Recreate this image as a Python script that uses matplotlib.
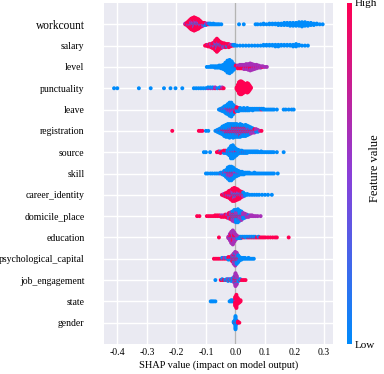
import numpy as np
import matplotlib
matplotlib.use("Agg")
import matplotlib.pyplot as plt
from matplotlib.colors import LinearSegmentedColormap
import matplotlib.cm as cm

# ── feature order (top to bottom) ─────────────────────────────────────────
FEATURES = [
    "workcount", "salary", "level", "punctuality", "leave", "registration",
    "source", "skill", "career_identity", "domicile_place", "education",
    "psychological_capital", "job_engagement", "state", "gender",
]

# each entry: (shap value, n high, n mid, n low)  -- points
workcount = [
    (-0.170, 1, 1, 0), (-0.165, 3, 1, 0), (-0.160, 5, 2, 1), (-0.155, 8, 3, 1),
    (-0.150, 10, 4, 2), (-0.145, 11, 5, 2), (-0.140, 12, 5, 3), (-0.135, 11, 5, 2),
    (-0.130, 10, 4, 2), (-0.125, 8, 4, 2), (-0.120, 6, 3, 1), (-0.115, 4, 2, 1),
    (-0.110, 2, 2, 1), (-0.105, 2, 1, 1), (-0.100, 1, 1, 1), (-0.095, 1, 1, 0),
    (-0.090, 1, 0, 1), (-0.085, 0, 0, 2), (-0.080, 0, 0, 1), (-0.075, 0, 0, 2),
    (-0.070, 0, 0, 1), (-0.065, 0, 0, 1), (-0.060, 0, 0, 1), (-0.055, 0, 0, 1),
    (-0.048, 0, 0, 1), (0.012, 0, 0, 1), (0.028, 0, 0, 1), (0.068, 0, 0, 1),
    (0.075, 0, 0, 1), (0.085, 0, 0, 1), (0.095, 0, 0, 2), (0.105, 0, 0, 1),
    (0.115, 0, 0, 2), (0.125, 0, 0, 2), (0.135, 0, 0, 2), (0.145, 0, 0, 3),
    (0.155, 0, 0, 3), (0.165, 0, 0, 4), (0.175, 0, 0, 4), (0.185, 0, 0, 5),
    (0.195, 0, 0, 5), (0.205, 0, 0, 5), (0.215, 0, 0, 6), (0.225, 0, 0, 7),
    (0.235, 0, 0, 6), (0.245, 0, 0, 5), (0.255, 0, 0, 4), (0.265, 0, 0, 3),
    (0.275, 0, 0, 2), (0.285, 0, 0, 1), (0.295, 0, 0, 1),
]
salary = [
    (-0.103, 1, 0, 0), (-0.098, 2, 0, 0), (-0.093, 2, 1, 0), (-0.088, 3, 1, 0),
    (-0.083, 3, 2, 0), (-0.078, 4, 2, 1), (-0.073, 5, 3, 1), (-0.068, 8, 4, 2),
    (-0.063, 10, 5, 3), (-0.058, 8, 4, 2), (-0.053, 5, 3, 2), (-0.048, 4, 2, 2),
    (-0.043, 3, 2, 1), (-0.038, 3, 2, 1), (-0.033, 3, 1, 1), (-0.028, 2, 1, 1),
    (-0.023, 3, 1, 1), (-0.018, 2, 1, 0), (-0.013, 1, 1, 0), (-0.008, 1, 0, 1),
    (-0.003, 0, 0, 2), (0.005, 0, 0, 1), (0.015, 0, 0, 1), (0.025, 0, 0, 1),
    (0.035, 0, 0, 1), (0.045, 0, 0, 1), (0.055, 0, 0, 1), (0.065, 0, 0, 1),
    (0.075, 0, 0, 1), (0.085, 0, 0, 1), (0.095, 0, 0, 2), (0.105, 0, 0, 2),
    (0.115, 0, 0, 2), (0.125, 0, 0, 2), (0.135, 0, 0, 3), (0.145, 0, 0, 3),
    (0.155, 0, 0, 2), (0.165, 0, 0, 2), (0.175, 0, 0, 2), (0.185, 0, 0, 2),
    (0.195, 0, 0, 3), (0.205, 0, 0, 4), (0.215, 0, 0, 2), (0.225, 0, 0, 1),
    (0.235, 0, 0, 1), (0.245, 0, 0, 1),
]
level = [
    (-0.097, 0, 0, 1), (-0.090, 0, 0, 1), (-0.083, 0, 0, 2), (-0.076, 0, 0, 2),
    (-0.069, 0, 0, 3), (-0.062, 0, 0, 3), (-0.055, 0, 0, 4), (-0.048, 0, 0, 5),
    (-0.041, 0, 0, 7), (-0.034, 0, 0, 12), (-0.027, 0, 0, 18), (-0.020, 0, 0, 20),
    (-0.013, 0, 0, 16), (-0.006, 0, 1, 8), (0.001, 2, 1, 1), (0.008, 3, 2, 0),
    (0.015, 3, 3, 0), (0.022, 3, 3, 0), (0.029, 3, 4, 0), (0.036, 3, 5, 0),
    (0.043, 3, 6, 0), (0.050, 4, 7, 0), (0.057, 3, 6, 0), (0.064, 2, 5, 0),
    (0.071, 2, 4, 0), (0.078, 1, 3, 0), (0.085, 1, 2, 0), (0.092, 1, 1, 0),
    (0.099, 0, 1, 0), (0.106, 0, 1, 0),
]
punctuality = [
    (-0.411, 0, 0, 1), (-0.400, 0, 0, 1), (-0.327, 0, 0, 1), (-0.287, 0, 0, 1),
    (-0.242, 0, 0, 1), (-0.220, 0, 0, 1), (-0.203, 0, 0, 1), (-0.180, 0, 0, 1),
    (-0.141, 0, 0, 1), (-0.133, 0, 0, 1), (-0.125, 0, 0, 1), (-0.117, 0, 0, 1),
    (-0.109, 0, 0, 1), (-0.101, 0, 0, 1), (-0.093, 0, 1, 1), (-0.085, 0, 1, 1),
    (-0.077, 0, 1, 1), (-0.069, 1, 1, 0), (-0.061, 0, 0, 1), (-0.053, 1, 0, 1),
    (-0.045, 1, 1, 0), (-0.040, 1, 0, 0),
    (0.004, 3, 0, 0), (0.008, 8, 0, 0), (0.012, 14, 0, 0), (0.016, 16, 0, 0),
    (0.020, 16, 0, 0), (0.024, 14, 0, 0), (0.028, 12, 0, 0), (0.032, 10, 0, 0),
    (0.036, 10, 0, 0), (0.040, 12, 0, 0), (0.044, 10, 0, 0), (0.048, 6, 0, 0),
    (0.052, 2, 0, 0),
]
leave = [
    (-0.056, 0, 0, 1), (-0.050, 0, 1, 2), (-0.044, 1, 1, 3), (-0.038, 1, 2, 5),
    (-0.032, 1, 3, 7), (-0.026, 2, 3, 9), (-0.020, 2, 4, 12), (-0.014, 2, 5, 12),
    (-0.008, 2, 3, 8), (-0.002, 3, 2, 3), (0.004, 3, 1, 2), (0.010, 2, 1, 2),
    (0.016, 1, 0, 3), (0.022, 0, 0, 3), (0.028, 0, 1, 3), (0.034, 0, 0, 3),
    (0.040, 1, 0, 3), (0.046, 0, 0, 3), (0.052, 0, 0, 2), (0.058, 0, 0, 3),
    (0.064, 0, 0, 2), (0.070, 0, 0, 2), (0.076, 0, 0, 2), (0.082, 0, 0, 2),
    (0.088, 1, 0, 1), (0.094, 0, 0, 2), (0.100, 0, 0, 1), (0.106, 0, 0, 1),
    (0.112, 0, 0, 1), (0.118, 0, 0, 1), (0.124, 0, 0, 1), (0.130, 0, 0, 1),
    (0.140, 0, 0, 1), (0.163, 0, 0, 1), (0.170, 0, 0, 1), (0.180, 0, 0, 1),
    (0.190, 0, 0, 1), (0.197, 0, 0, 1),
]
registration = [
    (-0.214, 1, 0, 0), (-0.124, 1, 0, 0), (-0.118, 1, 0, 0), (-0.112, 1, 0, 0),
    (-0.100, 0, 0, 1), (-0.092, 0, 0, 1), (-0.068, 0, 0, 1), (-0.062, 1, 0, 2),
    (-0.056, 1, 1, 3), (-0.050, 1, 1, 5), (-0.044, 2, 1, 7), (-0.038, 2, 2, 9),
    (-0.032, 3, 2, 10), (-0.026, 3, 2, 11), (-0.020, 3, 3, 11), (-0.014, 3, 3, 10),
    (-0.008, 4, 3, 10), (-0.002, 4, 3, 9), (0.004, 4, 4, 8), (0.010, 4, 4, 7),
    (0.016, 5, 4, 7), (0.022, 4, 4, 6), (0.028, 4, 3, 6), (0.034, 4, 3, 7),
    (0.040, 3, 3, 6), (0.046, 3, 3, 4), (0.052, 2, 3, 3), (0.058, 2, 2, 2),
    (0.064, 2, 2, 1), (0.070, 1, 2, 1), (0.076, 1, 1, 1), (0.082, 0, 1, 0),
    (0.088, 1, 0, 0),
]
source = [
    (-0.107, 0, 0, 1), (-0.100, 0, 0, 1), (-0.086, 0, 0, 1), (-0.063, 1, 0, 0),
    (-0.057, 2, 0, 0), (-0.051, 2, 0, 1), (-0.045, 2, 0, 0), (-0.039, 2, 1, 1),
    (-0.033, 2, 1, 1), (-0.027, 1, 1, 3), (-0.021, 1, 1, 8), (-0.015, 1, 2, 14),
    (-0.009, 1, 2, 15), (-0.003, 1, 2, 10), (0.003, 2, 1, 6), (0.009, 1, 1, 4),
    (0.015, 1, 0, 3), (0.021, 1, 0, 3), (0.027, 1, 0, 2), (0.033, 1, 0, 2),
    (0.039, 1, 0, 2), (0.045, 0, 0, 2), (0.051, 0, 0, 2), (0.057, 0, 0, 2),
    (0.063, 0, 0, 2), (0.069, 0, 0, 2), (0.075, 0, 0, 2), (0.081, 0, 0, 1),
    (0.087, 0, 0, 2), (0.093, 0, 0, 1), (0.099, 0, 0, 1), (0.105, 0, 0, 1),
    (0.111, 0, 0, 1), (0.117, 0, 0, 1), (0.123, 0, 0, 1), (0.129, 0, 0, 1),
    (0.140, 0, 0, 1), (0.163, 0, 0, 1),
]
skill = [
    (-0.100, 0, 0, 1), (-0.094, 0, 0, 1), (-0.085, 0, 0, 1), (-0.078, 0, 0, 1),
    (-0.070, 0, 0, 1), (-0.063, 0, 0, 1), (-0.056, 0, 0, 1), (-0.050, 0, 1, 1),
    (-0.044, 0, 1, 2), (-0.038, 1, 2, 3), (-0.032, 1, 3, 5), (-0.026, 2, 4, 8),
    (-0.020, 2, 5, 10), (-0.014, 2, 5, 10), (-0.008, 2, 4, 8), (-0.002, 1, 3, 6),
    (0.004, 1, 2, 5), (0.010, 0, 2, 4), (0.016, 0, 1, 3), (0.022, 0, 1, 3),
    (0.028, 0, 0, 3), (0.034, 0, 0, 2), (0.040, 0, 0, 2), (0.046, 0, 0, 2),
    (0.052, 0, 0, 1), (0.058, 0, 0, 1), (0.064, 0, 0, 2), (0.070, 0, 0, 1),
    (0.076, 0, 0, 1), (0.082, 0, 0, 1), (0.088, 0, 0, 1), (0.094, 0, 0, 1),
    (0.100, 0, 0, 1), (0.106, 0, 0, 1), (0.112, 0, 0, 1), (0.118, 0, 0, 1),
    (0.124, 0, 0, 1), (0.130, 0, 0, 1), (0.143, 0, 0, 1),
]
career_identity = [
    (-0.046, 1, 0, 0), (-0.040, 2, 1, 0), (-0.034, 3, 1, 1), (-0.028, 4, 2, 1),
    (-0.022, 6, 3, 1), (-0.016, 8, 4, 1), (-0.010, 10, 5, 2), (-0.004, 10, 5, 3),
    (0.002, 9, 4, 3), (0.008, 8, 4, 2), (0.014, 6, 3, 2), (0.020, 4, 2, 2),
    (0.026, 2, 2, 2), (0.032, 0, 1, 2), (0.040, 0, 0, 2), (0.048, 0, 0, 1),
    (0.056, 0, 0, 1), (0.064, 0, 0, 1), (0.072, 0, 0, 1), (0.080, 0, 0, 1),
    (0.090, 0, 0, 1), (0.100, 0, 0, 1), (0.110, 0, 0, 1), (0.123, 0, 0, 1),
]
domicile_place = [
    (-0.130, 1, 0, 0), (-0.122, 1, 0, 0), (-0.097, 1, 0, 0), (-0.090, 1, 0, 0),
    (-0.083, 1, 0, 0), (-0.076, 1, 0, 0), (-0.069, 2, 0, 0), (-0.062, 2, 0, 0),
    (-0.055, 2, 0, 0), (-0.048, 2, 1, 0), (-0.041, 2, 1, 0), (-0.034, 3, 1, 0),
    (-0.028, 3, 2, 0), (-0.022, 4, 3, 1), (-0.016, 4, 4, 2), (-0.010, 4, 5, 4),
    (-0.004, 4, 6, 6), (0.002, 3, 6, 8), (0.008, 3, 6, 9), (0.014, 2, 5, 7),
    (0.020, 2, 5, 5), (0.026, 1, 4, 3), (0.032, 1, 3, 2), (0.038, 0, 3, 1),
    (0.044, 0, 2, 1), (0.050, 0, 2, 0), (0.056, 0, 2, 0), (0.062, 0, 1, 0),
    (0.068, 0, 1, 0), (0.075, 0, 1, 0), (0.085, 0, 1, 0),
]
education = [
    (-0.056, 1, 0, 0), (-0.024, 1, 2, 0), (-0.019, 3, 6, 1), (-0.014, 6, 10, 1),
    (-0.009, 7, 12, 2), (-0.004, 5, 8, 1), (0.001, 3, 4, 1), (0.006, 1, 2, 1),
    (0.012, 1, 1, 1), (0.018, 1, 0, 2), (0.024, 1, 0, 1), (0.030, 1, 0, 1),
    (0.036, 0, 0, 2), (0.042, 1, 0, 1), (0.048, 1, 0, 1), (0.054, 1, 0, 1),
    (0.060, 1, 0, 1), (0.066, 1, 0, 1), (0.072, 1, 0, 0), (0.078, 1, 0, 1),
    (0.084, 1, 0, 0), (0.090, 1, 0, 0), (0.096, 1, 0, 0), (0.102, 1, 0, 0),
    (0.110, 1, 0, 0), (0.118, 1, 0, 0), (0.126, 1, 0, 0), (0.134, 1, 0, 0),
    (0.140, 1, 0, 0), (0.180, 1, 0, 0),
]
psychological_capital = [
    (-0.073, 1, 0, 0), (-0.066, 1, 0, 0), (-0.059, 1, 0, 0), (-0.052, 1, 0, 0),
    (-0.045, 1, 0, 1), (-0.038, 1, 1, 0), (-0.031, 1, 0, 1), (-0.024, 2, 1, 1),
    (-0.017, 2, 1, 1), (-0.011, 3, 3, 2), (-0.006, 4, 6, 3), (-0.001, 4, 8, 5),
    (0.004, 3, 6, 5), (0.009, 2, 3, 4), (0.014, 1, 1, 3), (0.020, 0, 1, 2),
    (0.026, 0, 0, 2), (0.032, 0, 0, 2), (0.038, 0, 0, 1), (0.044, 0, 0, 2),
    (0.050, 0, 0, 1), (0.056, 0, 0, 1), (0.062, 0, 0, 1),
]
job_engagement = [
    (-0.068, 0, 0, 1), (-0.050, 1, 0, 0), (-0.045, 1, 0, 1), (-0.040, 1, 0, 0),
    (-0.035, 0, 0, 1), (-0.030, 1, 0, 1), (-0.025, 1, 1, 1), (-0.020, 1, 0, 1),
    (-0.015, 1, 1, 1), (-0.010, 1, 1, 2), (-0.004, 2, 4, 2), (0.000, 4, 8, 4),
    (0.004, 3, 5, 3), (0.010, 1, 1, 1), (0.016, 1, 0, 1), (0.022, 1, 0, 0),
    (0.028, 1, 0, 0), (0.034, 1, 0, 0),
]
state = [
    (-0.084, 0, 0, 1), (-0.079, 0, 0, 1), (-0.074, 0, 0, 1), (-0.068, 0, 0, 1),
    (-0.020, 0, 0, 1), (-0.015, 0, 0, 2), (-0.010, 0, 0, 2), (-0.005, 0, 0, 1),
    (-0.001, 8, 0, 1), (0.003, 12, 1, 0), (0.008, 6, 0, 0), (0.013, 3, 0, 0),
    (0.017, 2, 0, 0),
]
gender = [
    (-0.006, 0, 0, 2), (-0.002, 0, 0, 4), (0.000, 1, 0, 12), (0.003, 1, 0, 3),
    (0.008, 2, 0, 0), (0.013, 1, 0, 0),
]

ROWS = [workcount, salary, level, punctuality, leave, registration, source,
        skill, career_identity, domicile_place, education,
        psychological_capital, job_engagement, state, gender]

LEVELS = (1.0, 0.62, 0.0)   # feature value used for high / mid / low points

XTICKS = [-0.4, -0.3, -0.2, -0.1, 0.0, 0.1, 0.2, 0.3]

# ── style ─────────────────────────────────────────────────────────────────
BG_AXES = "#eaeaf2"
SERIF = ["Liberation Serif", "DejaVu Serif"]
plt.rcParams["font.family"] = SERIF

cmap = LinearSegmentedColormap.from_list(
    "red_blue", ["#008bfb", "#8b3fd8", "#ff0052"])


def swarm_row(entries, y0, row_height=0.4):
    """shap-style stacking: every point in a bin goes up/down alternately"""
    xs, ys, cs = [], [], []
    max_n = max(sum(e[1:]) for e in entries)
    top = np.ceil((max_n - 1) / 2)
    unit = 0.9 * row_height / (top + 1)
    for val, nh, nm, nl in entries:
        pools = [[LEVELS[0]] * nh, [LEVELS[1]] * nm, [LEVELS[2]] * nl]
        order = []
        while any(pools):
            for p in pools:
                if p:
                    order.append(p.pop())
        for layer, c in enumerate(order):
            off = np.ceil(layer / 2) * ((layer % 2) * 2 - 1)
            xs.append(val)
            ys.append(y0 + off * unit)
            cs.append(c)
    return xs, ys, cs


fig = plt.figure(figsize=(3.84, 3.74), dpi=100, facecolor="white")
ax = fig.add_axes([104 / 384, 1 - 344 / 374, 229 / 384, 341 / 374])
ax.set_facecolor(BG_AXES)

n = len(FEATURES)
all_x, all_y, all_c = [], [], []
for i, entries in enumerate(ROWS):
    xs, ys, cs = swarm_row(entries, n - 1 - i)
    all_x += xs
    all_y += ys
    all_c += cs

ax.axvline(0, color="#b4b4b4", linewidth=1.0, zorder=1)
ax.scatter(all_x, all_y, c=all_c, cmap=cmap, vmin=0, vmax=1, s=8,
           linewidth=0, zorder=3)

ax.set_xlim(-0.445, 0.33)
ax.set_ylim(-1, n)
ax.set_xticks(XTICKS)
ax.set_xticklabels([f"{t:.1f}" for t in XTICKS], fontsize=7)
ax.set_yticks(range(n))
ax.set_yticklabels(FEATURES[::-1], fontsize=7)
ax.get_yticklabels()[-1].set_fontsize(8.3)
ax.tick_params(axis="y", length=0, pad=14)
ax.tick_params(axis="x", length=0, pad=3)
ax.grid(True, color="white", linewidth=1.0)
ax.set_axisbelow(True)
for sp in ax.spines.values():
    sp.set_visible(False)
ax.set_xlabel("SHAP value (impact on model output)", fontsize=7.5, labelpad=2)

# ── colour bar ────────────────────────────────────────────────────────────
cax = fig.add_axes([347 / 384, 1 - 344 / 374, 5 / 384, 341 / 374])
m = cm.ScalarMappable(cmap=cmap)
m.set_array([0, 1])
cb = fig.colorbar(m, cax=cax, ticks=[0, 1])
cb.set_ticklabels(["Low", "High"])
cb.ax.tick_params(labelsize=8, length=0, pad=2)
cb.outline.set_visible(False)
fig.text(375 / 384, 1 - 168 / 374, "Feature value", rotation=90,
         ha="center", va="center", fontsize=9)

fig.savefig("out.png", dpi=100, facecolor="white")
